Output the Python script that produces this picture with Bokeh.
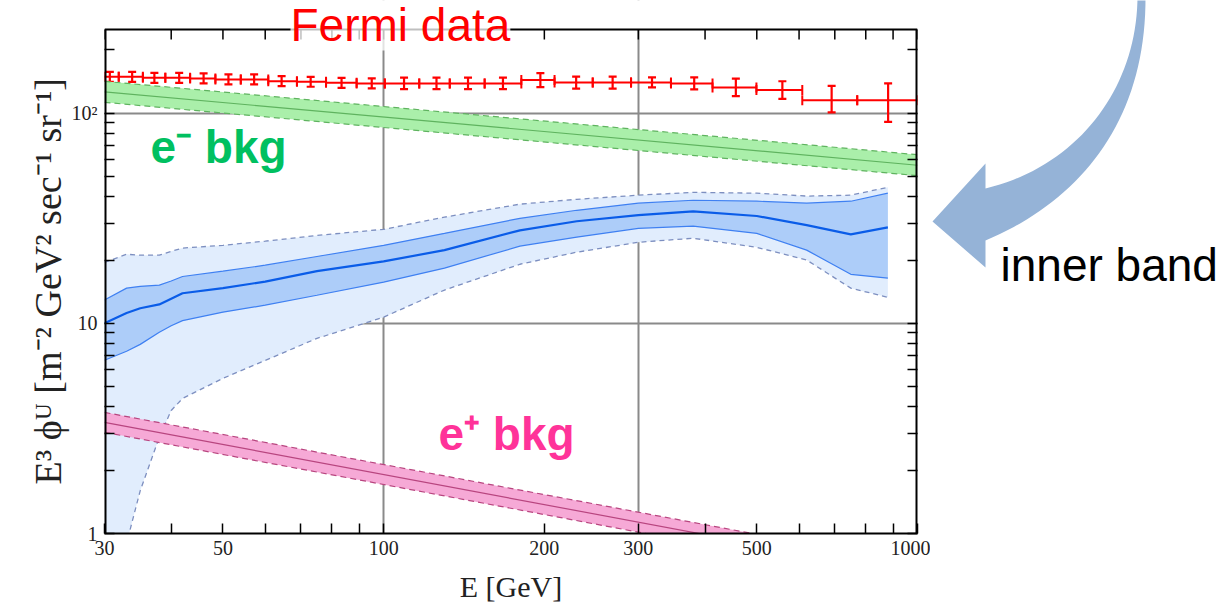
import numpy as np
from bokeh.plotting import figure
from bokeh.layouts import row
from bokeh.models import (ColumnDataSource, FixedTicker, LogAxis, Whisker, TeeHead,
                          Label, Range1d)
from bokeh.core.properties import value
from bokeh.embed import file_html
from bokeh.resources import INLINE

# ---------------- data ----------------
# Fermi data points (E [GeV], flux, error bounds, bin edges)
fermi_E = [30.7, 33.8, 37.2, 41.4, 46.0, 51.2, 57.2, 64.4, 73.0, 83.4, 95.0, 109.2,
           125.6, 143.9, 167.3, 196.6, 229.4, 268.5, 318.2, 381.7, 456.8, 558.3, 690.5, 881.0]
fermi_edges = [30.0, 31.9, 35.4, 39.0, 43.4, 48.4, 54.0, 60.8, 68.8, 78.0, 89.0, 100.5, 116.6,
               133.0, 154.6, 181.1, 209.0, 246.4, 290.7, 345.3, 413.1, 499.2, 608.4, 771.1, 1000.0]
fermi_flux = [148.9, 148.9, 147.3, 147.3, 146.3, 144.7, 144.7, 142.0, 141.0, 139.4, 138.5, 138.5,
              138.5, 138.5, 138.5, 143.6, 139.7, 139.7, 140.0, 138.5, 132.6, 128.7, 115.3, 115.3]
fermi_hi = [157.3, 157.3, 155.6, 155.6, 154.5, 152.8, 152.8, 150.0, 148.9, 147.2, 146.3, 147.4,
            147.4, 147.4, 147.4, 155.1, 149.2, 149.2, 147.9, 147.9, 145.9, 141.8, 134.9, 138.5]
fermi_lo = [141.0, 141.0, 139.4, 139.4, 138.5, 137.0, 137.0, 134.4, 133.5, 132.0, 131.1, 130.1,
            130.1, 130.1, 130.1, 133.0, 130.8, 130.8, 132.5, 129.7, 120.5, 116.8, 100.8, 90.9]

# signal bands
sig_E = [30, 33, 35, 38, 40, 42, 50, 60, 75, 100, 130, 180, 230, 300, 380, 500, 620, 750, 880]
sig_mid = [10.0, 11.2, 11.8, 12.3, 13.1, 13.9, 14.7, 15.8, 17.7, 19.7, 22.3, 27.7, 30.6, 32.7,
           34.1, 32.4, 29.3, 26.5, 28.6]
sig_in_hi = [12.9, 14.7, 15.0, 15.2, 15.9, 16.7, 17.7, 18.9, 20.8, 23.5, 26.8, 31.6, 34.5, 37.3,
             38.5, 38.1, 37.3, 38.1, 41.6]
sig_in_lo = [6.67, 7.36, 7.94, 9.06, 9.74, 10.3, 11.3, 12.2, 13.6, 15.7, 18.3, 23.3, 25.7, 28.3,
             29.0, 26.8, 22.3, 17.1, 16.4]
sig_out_hi = [19.5, 21.3, 21.1, 21.1, 22.0, 22.8, 23.5, 24.6, 26.2, 28.0, 32.0, 36.9, 38.9, 40.7,
              42.0, 41.6, 40.3, 40.7, 44.4]
sig_out_lo = [0.5, 0.9, 1.6, 2.87, 3.85, 4.39, 5.47, 6.66, 8.48, 10.7, 14.4, 19.1, 21.8, 24.3,
              25.4, 23.0, 20.0, 14.7, 13.3]

# electron background (power law)
em_E = [30, 1000]
em_mid = [126.3, 56.5]
em_hi = [141.7, 63.4]
em_lo = [112.6, 50.4]

# positron background (power law)
ep_E = [30, 1000]
ep_mid = [3.38, 0.639]
ep_hi = [3.77, 0.713]
ep_lo = [3.03, 0.573]

# axis ticks
x_ticks = [30, 40, 50, 60, 70, 80, 90, 100, 200, 300, 400, 500, 600, 700, 800, 900, 1000]
x_labels = {30: "30", 50: "50", 100: "100", 200: "200", 300: "300", 500: "500", 1000: "1000"}
y_ticks = [1, 2, 3, 4, 5, 6, 7, 8, 9, 10, 20, 30, 40, 50, 60, 70, 80, 90, 100, 200]
y_labels = {1: "1", 10: "10", 100: "10\u00b2"}

# ---------------- layout ----------------
W, H = 1222, 614
PW = 930                               # width of the main plot canvas
FL, FR, FT, FB = 104, 917, 29, 533     # box edges in page pixels
LBL_SHIFT = 19                         # baseline correction for text
X_MIN, X_MAX = 30, 1000
Y_MIN, Y_TOP = 1, 250
TICK_PX = 10

# the plotting frame reaches the top of the page so that the "Fermi data" title can
# stick out above the drawn box; the box top sits at Y_TOP
dec_per_px = (np.log10(Y_TOP) - np.log10(Y_MIN)) / (FB - FT)
Y_FRAME_TOP = Y_MIN * 10 ** (dec_per_px * FB)

p = figure(width=PW, height=H, x_axis_type="log", y_axis_type="log",
           x_range=(X_MIN, X_MAX), y_range=(Y_MIN, Y_FRAME_TOP), title=None,
           output_backend="svg", toolbar_location=None,
           min_border_left=FL, min_border_right=PW - FR,
           min_border_top=0, min_border_bottom=H - FB)
p.outline_line_color = None
p.background_fill_color = "white"
p.border_fill_color = "white"

serif = "Liberation Serif"


def style_axis(ax, ticks, labels, show_labels=True):
    ax.ticker = FixedTicker(ticks=ticks, minor_ticks=[])
    if show_labels:
        ax.major_label_overrides = {t: labels.get(t, "") for t in ticks}
    else:
        ax.major_label_overrides = {t: "" for t in ticks}
    ax.major_tick_in = TICK_PX
    ax.major_tick_out = 0
    ax.minor_tick_in = 0
    ax.minor_tick_out = 0
    ax.major_tick_line_width = 1.5
    ax.major_tick_line_color = "black"
    ax.axis_line_width = 2
    ax.axis_line_color = "black"
    ax.major_label_text_font = serif
    ax.major_label_text_font_size = "20px"
    ax.major_label_text_color = "#222222"
    ax.major_label_standoff = 7


xa = p.xaxis[0]
ya = p.yaxis[0]
style_axis(xa, x_ticks, x_labels)
style_axis(ya, y_ticks, y_labels)
ya.axis_line_color = None
xa.axis_label = "E [GeV]"
xa.axis_label_text_font = serif
xa.axis_label_text_font_size = "30px"
xa.axis_label_text_font_style = "normal"
xa.axis_label_text_color = "#222222"
xa.axis_label_standoff = 12
# trailing no-break spaces centre the label on the drawn box rather than the frame
ya.axis_label = "E\u00b3 \u03d5\u1d41 [m\u207b\u00b2 GeV\u00b2 sec\u207b\u00b9 sr\u207b\u00b9]\u00a0\u00a0\u00a0"
ya.axis_label_text_font = serif
ya.axis_label_text_font_size = "38px"
ya.axis_label_text_font_style = "normal"
ya.axis_label_text_color = "#222222"
ya.axis_label_standoff = 0

right_ax = LogAxis()
style_axis(right_ax, y_ticks, y_labels, show_labels=False)
right_ax.major_label_standoff = 0
right_ax.axis_line_color = None
p.add_layout(right_ax, "right")

# grid
p.xgrid.ticker = FixedTicker(ticks=[100, 300], minor_ticks=[])
p.ygrid.ticker = FixedTicker(ticks=[10, 100], minor_ticks=[])
p.xgrid.grid_line_color = "#8a8a8a"
p.ygrid.grid_line_color = "#8a8a8a"
p.xgrid.grid_line_width = 2
p.ygrid.grid_line_width = 2

# blank strip above the box
p.varea(x=[X_MIN, X_MAX], y1=[Y_TOP, Y_TOP], y2=[Y_FRAME_TOP, Y_FRAME_TOP],
        fill_color="white", fill_alpha=1)

# ---------------- signal bands ----------------
p.varea(x=sig_E, y1=sig_out_lo, y2=sig_out_hi, fill_color="#e1edfd", fill_alpha=1)
p.line(sig_E, sig_out_hi, line_color="#7d8fc0", line_dash="5 4", line_width=1.3)
p.line(sig_E, sig_out_lo, line_color="#7d8fc0", line_dash="5 4", line_width=1.3)
p.varea(x=sig_E, y1=sig_in_lo, y2=sig_in_hi, fill_color="#adcdf9", fill_alpha=1)
p.line(sig_E, sig_in_hi, line_color="#3f80f2", line_width=1.2)
p.line(sig_E, sig_in_lo, line_color="#3f80f2", line_width=1.2)
p.line(sig_E, sig_mid, line_color="#0a5ce8", line_width=2.2)

# ---------------- backgrounds ----------------
p.varea(x=em_E, y1=em_lo, y2=em_hi, fill_color="#aaefaa", fill_alpha=1)
p.line(em_E, em_hi, line_color="#5fb35f", line_dash="6 4", line_width=1.2)
p.line(em_E, em_lo, line_color="#5fb35f", line_dash="6 4", line_width=1.2)
p.line(em_E, em_mid, line_color="#5fb35f", line_width=1.2)

p.varea(x=ep_E, y1=ep_lo, y2=ep_hi, fill_color="#f6a9d6", fill_alpha=1)
p.line(ep_E, ep_hi, line_color="#b8457f", line_dash="6 4", line_width=1.2)
p.line(ep_E, ep_lo, line_color="#b8457f", line_dash="6 4", line_width=1.2)
p.line(ep_E, ep_mid, line_color="#b8457f", line_width=1.2)

# ---------------- box edges (top, left, right) ----------------
tick_low = Y_TOP / 10 ** (TICK_PX * dec_per_px)
p.line([X_MIN, X_MAX], [Y_TOP, Y_TOP], line_color="black", line_width=2)
p.line([X_MIN, X_MIN], [Y_MIN, Y_TOP], line_color="black", line_width=4)
p.line([X_MAX, X_MAX], [Y_MIN, Y_TOP], line_color="black", line_width=4)
p.segment(x0=x_ticks, y0=[Y_TOP] * len(x_ticks), x1=x_ticks, y1=[tick_low] * len(x_ticks),
          line_color="black", line_width=1.5)

# ---------------- Fermi data ----------------
RED = "#ff0000"
fsrc = ColumnDataSource(dict(E=fermi_E, v=fermi_flux, hi=fermi_hi, lo=fermi_lo,
                             x0=fermi_edges[:-1], x1=fermi_edges[1:]))
p.add_layout(Whisker(source=fsrc, base="v", lower="x0", upper="x1", dimension="width",
                     line_color=RED, line_width=2,
                     upper_head=TeeHead(size=10, line_color=RED, line_width=2),
                     lower_head=TeeHead(size=10, line_color=RED, line_width=2)))
p.add_layout(Whisker(source=fsrc, base="E", lower="lo", upper="hi", dimension="height",
                     line_color=RED, line_width=2.2,
                     upper_head=TeeHead(size=8, line_color=RED, line_width=2.2),
                     lower_head=TeeHead(size=8, line_color=RED, line_width=2.2)))


# ---------------- annotations ----------------
def sx(px):
    return px - FL


def sy(py):
    return FB - py + LBL_SHIFT


SANS = "Liberation Sans"
p.add_layout(Label(x=sx(290), y=sy(43), x_units="screen", y_units="screen",
                   text="Fermi data", text_font=SANS, text_font_size="46px",
                   text_color=RED, text_baseline="alphabetic",
                   background_fill_color="white", background_fill_alpha=0.75))
p.add_layout(Label(x=sx(150), y=sy(165), x_units="screen", y_units="screen",
                   text="e\u207b bkg", text_font=SANS, text_font_size="46px",
                   text_font_style="bold", text_color="#00c060", text_baseline="alphabetic"))
p.add_layout(Label(x=sx(438), y=sy(452), x_units="screen", y_units="screen",
                   text="e\u207a bkg", text_font=SANS, text_font_size="46px",
                   text_font_style="bold", text_color="#ff3399", text_baseline="alphabetic"))

# ---------------- side panel: curved arrow + "inner band" ----------------
# its frame spans page rows 0..FB (aligned with the main frame), so map y 1:1 on that span
q = figure(width=W - PW, height=H, x_range=Range1d(PW, W), y_range=Range1d(FB, 0),
           output_backend="svg", toolbar_location=None, title=None,
           x_axis_location=None, y_axis_location=None,
           min_border_left=0, min_border_right=0, min_border_top=0,
           min_border_bottom=H - FB)
q.outline_line_color = None
q.grid.visible = False
q.background_fill_color = "white"
q.border_fill_color = "white"


def bez(p0, p1, p2, p3, n=40):
    t = np.linspace(0, 1, n)[:, None]
    return ((1 - t) ** 3) * np.array(p0) + 3 * ((1 - t) ** 2) * t * np.array(p1) \
        + 3 * (1 - t) * t ** 2 * np.array(p2) + t ** 3 * np.array(p3)


outer = bez((1145, -5), (1146, 120), (1080, 200), (985, 240))
inner = bez((1137, -5), (1137, 85), (1080, 165), (985, 188))[::-1]
head = np.array([(985, 267), (932, 221), (985, 163)])
pts = np.vstack([outer, head, inner])
q.patch(pts[:, 0], pts[:, 1], fill_color="#95b3d7", fill_alpha=1, line_color=None)
q.text(x=[1000], y=[283 - LBL_SHIFT], text=["inner band"], text_font=value(SANS),
       text_font_size="46px", text_color="black", text_baseline="alphabetic",
       text_align="left")

layout = row(p, q, spacing=0)
open("out.html", "w").write(file_html(layout, INLINE))
